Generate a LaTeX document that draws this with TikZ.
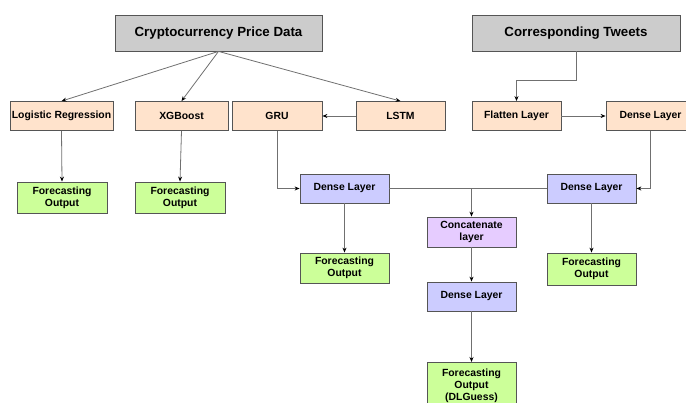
\documentclass[tikz,border=0pt]{standalone}
\usepackage{fontspec}
\setmainfont{Liberation Sans}
\usetikzlibrary{%
  arrows.meta,%
  positioning,%
  calc%
}

\definecolor{srcgray}{HTML}{CCCCCC}
\definecolor{modelorange}{HTML}{FFE3CC}
\definecolor{layerblue}{HTML}{CCCCFF}
\definecolor{catpurple}{HTML}{E6CCFF}
\definecolor{outgreen}{HTML}{CCFF99}
\definecolor{boxline}{HTML}{555555}
\definecolor{wire}{HTML}{707070}

\begin{document}
\begin{tikzpicture}
[x=1pt, y=-1pt, line width=0.8pt, >={Stealth[length=5pt,width=4pt,color=black]},
box/.style={draw=boxline, inner sep=0pt, align=center, font=\bfseries\fontsize{10.4}{12}\selectfont},
source/.style={box, fill=srcgray, minimum height=36pt, font=\bfseries\fontsize{13.3}{15}\selectfont},
model/.style={box, fill=modelorange, minimum height=29pt},
dense/.style={box, fill=layerblue, minimum width=89pt, minimum height=29pt},
concatbox/.style={box, fill=catpurple, minimum width=89pt, minimum height=30pt},
outbox/.style={box, fill=outgreen, minimum width=90pt, minimum height=31pt},
wire/.style={draw=wire, line width=0.8pt}]

\useasboundingbox (0,0) rectangle (686,403);

% inputs
\node[source, minimum width=207pt] (crypto) at (218.5,33) {Cryptocurrency Price Data};
\node[source, minimum width=208pt] (tweets) at (576,33) {Corresponding Tweets};

% models
\node[model, minimum width=103pt] (logreg) at (61.5,116) {Logistic Regression};
\node[model, minimum width=93pt] (xgb) at (181.5,116) {XGBoost};
\node[model, minimum width=90pt] (gru) at (277,116) {GRU};
\node[model, minimum width=89pt] (lstm) at (400.5,116) {LSTM};
\node[model, minimum width=89pt] (flatten) at (516.5,116) {Flatten Layer};
\node[model, minimum width=89pt] (densetw) at (650.5,116) {Dense Layer};

% dense and concat layers
\node[dense] (densel) at (344.5,188.5) {Dense Layer};
\node[dense] (denser) at (591.5,188.5) {Dense Layer};
\node[concatbox] (concat) at (471.5,232) {Concatenate\\layer};
\node[dense] (densec) at (471.5,296.5) {Dense Layer};

% outputs
\node[outbox] (outlog) at (62,197.5) {Forecasting\\Output};
\node[outbox] (outxgb) at (180,197.5) {Forecasting\\Output};
\node[outbox, minimum width=89pt, minimum height=30pt] (outl) at (344.5,268) {Forecasting\\Output};
\node[outbox, minimum width=89pt, minimum height=32pt] (outr) at (591.5,269) {Forecasting\\Output};
\node[outbox, minimum width=89pt, minimum height=46pt, anchor=north] (outdl) at (471.5,362) {Forecasting\\Output\\(DLGuess)};

\draw[wire,->] (crypto.south) -- (logreg.north);
\draw[wire,->] (crypto.south) -- (xgb.north);
\draw[wire,->] (crypto.south) -- (lstm.north);
\draw[wire,->] (lstm.west) -- (gru.east);

\draw[wire,->] (tweets.south) -- ++(0,29) -| (flatten.north);
\draw[wire,->] (flatten.east) -- (densetw.west);
\draw[wire,->] (densetw.south) |- (denser.east);
\draw[wire,->] (gru.south) |- (densel.west);

\draw[wire] (densel.east) -- (denser.west);
\draw[wire,->] (concat.north |- densel.east) -- (concat.north);
\draw[wire,->] (concat.south) -- (densec.north);
\draw[wire,->] (densec.south) -- (outdl.north);

\draw[wire,->] (logreg.south) -- (outlog.north);
\draw[wire,->] (xgb.south) -- (outxgb.north);
\draw[wire,->] (densel.south) -- (outl.north);
\draw[wire,->] (denser.south) -- (outr.north);
\end{tikzpicture}
\end{document}
